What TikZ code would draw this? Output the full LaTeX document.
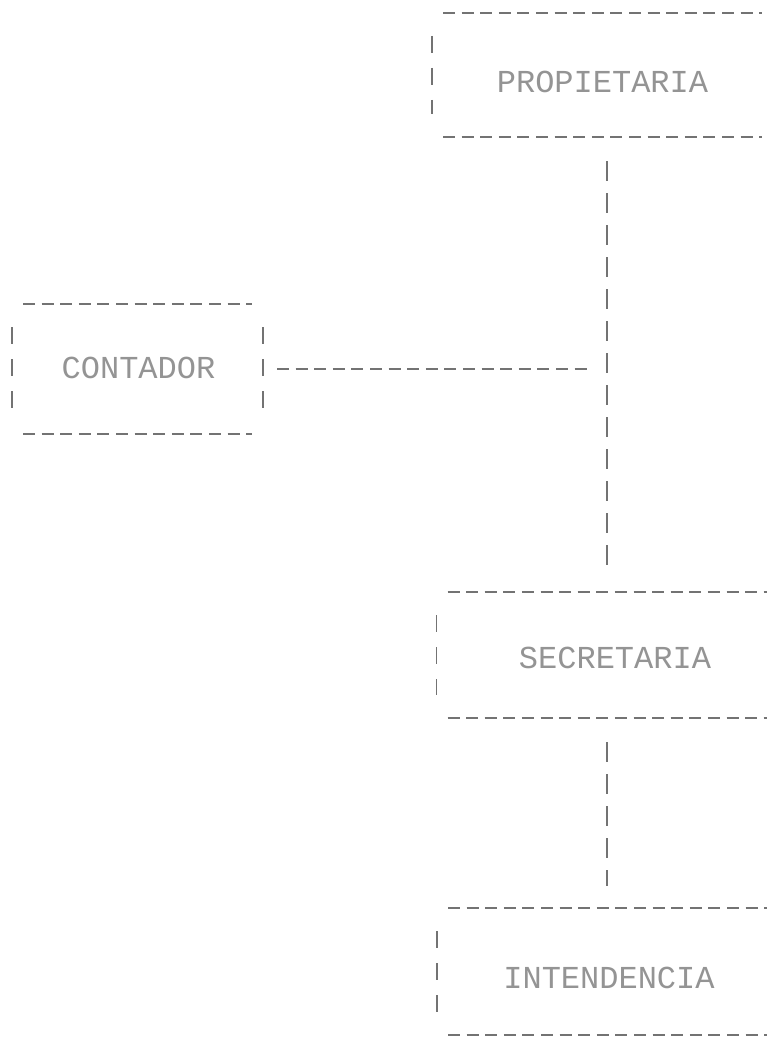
\documentclass[tikz,border=0pt]{standalone}
\usepackage{fontspec}
\newfontfamily\dotfont{Liberation Mono}
\usetikzlibrary{calc}
\tikzset{
  orgbox/.style={rectangle, draw=none, inner sep=0pt, outer sep=0pt},
  orgtext/.style={inner sep=0pt, text=black!42, font=\dotfont\fontsize{32}{38}\selectfont},
  hedge/.style={draw=black!55, line width=1.9pt, dash pattern=on 12pt off 6.6pt},
  vedge/.style={draw=black!55, line width=1.9pt, dash pattern=on 17pt off 15pt},
  hlink/.style={draw=black!55, line width=1.9pt, dash pattern=on 12pt off 6.6pt},
  vlink/.style={draw=black!55, line width=1.9pt, dash pattern=on 20pt off 12pt}
}
\begin{document}
\begin{tikzpicture}[x=1pt,y=-1pt]
\useasboundingbox (0,0) rectangle (771,1038);
\fill[white] (0,0) rectangle (771,1038);

\node[orgbox, minimum width=341pt, minimum height=124pt] (prop) at (602.5,75) {};
\node[orgbox, minimum width=251pt, minimum height=130pt] (cont) at (137.5,369) {};
\node[orgbox, minimum width=341pt, minimum height=126pt] (sec) at (607,655) {};
\node[orgbox, minimum width=341pt, minimum height=127pt] (int) at (607.5,971.5) {};

\node[orgtext] (propt) at ($(prop)+(0,7)$) {PROPIETARIA};
\node[orgtext] (contt) at ($(cont)+(1,-1)$) {CONTADOR};
\node[orgtext] (sect) at ($(sec)+(8,3)$) {SECRETARIA};
\node[orgtext] (intt) at ($(int)+(1.5,6.5)$) {INTENDENCIA};

% box outlines (dot-matrix style)
\foreach \b in {prop,cont,sec,int}{
  \draw[hedge] ($(\b.north west)+(11,0)$) -- ($(\b.north east)+(-11,0)$);
  \draw[hedge] ($(\b.south west)+(11,0)$) -- ($(\b.south east)+(-11,0)$);
  \draw[vedge] ($(\b.north west)+(0,23)$) -- ($(\b.south west)+(0,-23)$);
}
\draw[vedge] ($(cont.north east)+(0,23)$) -- ($(cont.south east)+(0,-23)$);

% connectors
\coordinate (j) at (607,369);
\draw[vlink] ($(prop.south -| j)+(0,24)$) -- ($(sec.north -| j)+(0,-24)$);
\draw[hlink] ($(cont.east)+(14,0)$) -- ($(j)+(-15,0)$);
\draw[vlink] ($(sec.south -| j)+(0,24)$) -- ($(int.north -| j)+(0,-22)$);
\end{tikzpicture}
\end{document}
